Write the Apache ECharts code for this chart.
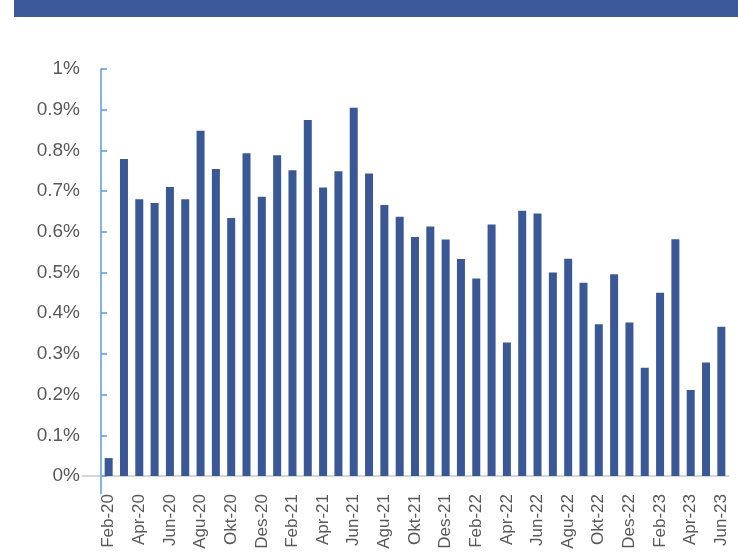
<!DOCTYPE html>
<html>
<head>
<meta charset="utf-8">
<script src="https://cdn.jsdelivr.net/npm/echarts@6/dist/echarts.min.js"></script>
<style>
html,body{margin:0;padding:0;background:#fff;}
#chart{width:738px;height:555px;}
</style>
</head>
<body>
<div id="chart"></div>
<script>
const categories = [
  'Feb-20','Mar-20','Apr-20','Mei-20','Jun-20','Jul-20','Agu-20','Sep-20','Okt-20','Nov-20','Des-20',
  'Jan-21','Feb-21','Mar-21','Apr-21','Mei-21','Jun-21','Jul-21','Agu-21','Sep-21','Okt-21','Nov-21','Des-21',
  'Jan-22','Feb-22','Mar-22','Apr-22','Mei-22','Jun-22','Jul-22','Agu-22','Sep-22','Okt-22','Nov-22','Des-22',
  'Jan-23','Feb-23','Mar-23','Apr-23','Mei-23','Jun-23'
];
const values = [
  0.044, 0.779, 0.680, 0.671, 0.710, 0.680, 0.848, 0.754, 0.634, 0.793, 0.686,
  0.788, 0.751, 0.875, 0.709, 0.749, 0.905, 0.743, 0.666, 0.637, 0.587, 0.613, 0.581,
  0.533, 0.485, 0.618, 0.328, 0.652, 0.645, 0.500, 0.534, 0.475, 0.373, 0.496, 0.377,
  0.266, 0.450, 0.582, 0.211, 0.279, 0.367
];
const yMin = 0, yMax = 1, yStep = 0.1;

const chart = echarts.init(document.getElementById('chart'), null, {renderer:'canvas'});
const textColor = '#595959';
const barColor = '#3B5896';
const axisBlue = '#5B9BD5';

chart.setOption({
  backgroundColor: '#ffffff',
  animation: false,
  grid: {left: 101, right: 9, top: 69, bottom: 79, containLabel: false},
  xAxis: {
    type: 'category',
    data: categories,
    boundaryGap: true,
    axisLine: {show: true, lineStyle: {color: '#C8C8C8', width: 1.5}},
    axisTick: {show: false},
    axisLabel: {
      interval: 1, rotate: 90, margin: 18,
      color: textColor, fontSize: 17, fontFamily: 'Liberation Sans, Arial, sans-serif'
    },
    splitLine: {show: false}
  },
  yAxis: {
    type: 'value',
    min: yMin, max: yMax, interval: yStep,
    axisLine: {show: true, lineStyle: {color: axisBlue, width: 1.5}},
    axisTick: {show: true, inside: true, length: 6, lineStyle: {color: axisBlue, width: 1.5}},
    axisLabel: {
      margin: 21, color: textColor, fontSize: 19,
      fontFamily: 'Liberation Sans, Arial, sans-serif',
      formatter: v => (Math.round(v * 10) / 10) + '%'
    },
    splitLine: {show: false}
  },
  series: [{
    type: 'bar',
    data: values,
    barWidth: 8,
    itemStyle: {color: barColor},
    silent: true
  }]
});

const origin = chart.convertToPixel({gridIndex: 0}, [0, 0]);
const x0 = 101, y0 = origin[1];
chart.setOption({
  graphic: [
    {type: 'rect', shape: {x: 14, y: 0, width: 724, height: 17}, style: {fill: '#3B5998'}},
    {type: 'line', shape: {x1: 82, y1: y0, x2: x0, y2: y0}, style: {stroke: '#C8C8C8', lineWidth: 1.5}},
    {type: 'line', shape: {x1: x0, y1: y0, x2: x0, y2: y0 + 18}, style: {stroke: axisBlue, lineWidth: 1.5}}
  ]
});
</script>
</body>
</html>
